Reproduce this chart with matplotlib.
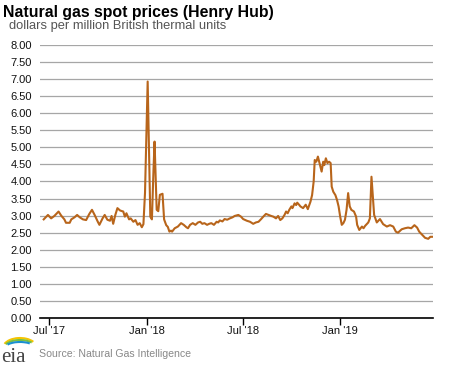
import matplotlib
matplotlib.use("Agg")
import matplotlib.pyplot as plt
from matplotlib.patches import Arc
import numpy as np
import pandas as pd

plt.rcParams['font.family'] = ['Liberation Sans', 'DejaVu Sans']

## Data
dates = [
    "2017-06-21", "2017-06-29", "2017-07-05", "2017-07-11", "2017-07-19", "2017-07-24",
    "2017-07-30", "2017-08-02", "2017-08-09", "2017-08-12", "2017-08-18", "2017-08-23",
    "2017-08-28", "2017-09-03", "2017-09-09", "2017-09-15", "2017-09-20", "2017-09-25",
    "2017-10-01", "2017-10-04", "2017-10-10", "2017-10-14", "2017-10-19", "2017-10-24",
    "2017-10-27", "2017-10-30", "2017-11-03", "2017-11-07", "2017-11-12", "2017-11-18",
    "2017-11-21", "2017-11-24", "2017-11-29", "2017-12-02", "2017-12-07", "2017-12-11",
    "2017-12-15", "2017-12-19", "2017-12-23", "2017-12-26", "2017-12-29", "2018-01-03",
    "2018-01-08", "2018-01-11", "2018-01-14", "2018-01-16", "2018-01-20", "2018-01-23",
    "2018-01-26", "2018-01-31", "2018-02-03", "2018-02-07", "2018-02-10", "2018-02-13",
    "2018-02-16", "2018-02-18", "2018-02-23", "2018-03-01", "2018-03-07", "2018-03-12",
    "2018-03-17", "2018-03-20", "2018-03-24", "2018-03-29", "2018-04-03", "2018-04-08",
    "2018-04-12", "2018-04-16", "2018-04-20", "2018-04-25", "2018-04-29", "2018-05-03",
    "2018-05-08", "2018-05-13", "2018-05-16", "2018-05-19", "2018-05-24", "2018-05-28",
    "2018-06-02", "2018-06-07", "2018-06-12", "2018-06-16", "2018-06-23", "2018-06-28",
    "2018-07-02", "2018-07-09", "2018-07-15", "2018-07-21", "2018-07-26", "2018-07-31",
    "2018-08-05", "2018-08-09", "2018-08-14", "2018-08-19", "2018-08-24", "2018-08-28",
    "2018-09-02", "2018-09-06", "2018-09-10", "2018-09-14", "2018-09-18", "2018-09-21",
    "2018-09-24", "2018-09-27", "2018-10-01", "2018-10-03", "2018-10-07", "2018-10-10",
    "2018-10-12", "2018-10-16", "2018-10-18", "2018-10-23", "2018-10-28", "2018-11-01",
    "2018-11-06", "2018-11-09", "2018-11-12", "2018-11-14", "2018-11-17", "2018-11-20",
    "2018-11-23", "2018-11-27", "2018-11-30", "2018-12-02", "2018-12-05", "2018-12-08",
    "2018-12-11", "2018-12-14", "2018-12-16", "2018-12-19", "2018-12-23", "2018-12-26",
    "2018-12-29", "2019-01-01", "2019-01-04", "2019-01-07", "2019-01-10", "2019-01-13",
    "2019-01-16", "2019-01-19", "2019-01-22", "2019-01-27", "2019-01-31", "2019-02-02",
    "2019-02-06", "2019-02-11", "2019-02-14", "2019-02-17", "2019-02-20", "2019-02-23",
    "2019-02-26", "2019-03-01", "2019-03-06", "2019-03-11", "2019-03-17", "2019-03-23",
    "2019-03-30", "2019-04-05", "2019-04-11", "2019-04-16", "2019-04-20", "2019-04-27",
    "2019-05-03", "2019-05-09", "2019-05-15", "2019-05-21", "2019-05-26", "2019-05-30",
    "2019-06-04", "2019-06-10", "2019-06-16", "2019-06-20", "2019-06-23",
]
prices = [
    2.89, 3.02, 2.92, 2.99, 3.12, 3.00,
    2.89, 2.79, 2.79, 2.89, 2.95, 3.02,
    2.95, 2.89, 2.87, 3.05, 3.17, 3.02,
    2.82, 2.73, 2.92, 3.02, 2.88, 2.85,
    2.99, 2.76, 3.02, 3.22, 3.15, 3.12,
    2.97, 3.07, 2.89, 2.92, 2.82, 2.87,
    2.73, 2.78, 2.66, 2.75, 3.67, 6.93,
    2.97, 2.89, 4.34, 5.17, 3.17, 3.13,
    3.61, 3.64, 2.89, 2.72, 2.67, 2.53,
    2.56, 2.53, 2.63, 2.68, 2.78, 2.73,
    2.66, 2.63, 2.73, 2.78, 2.73, 2.80,
    2.82, 2.76, 2.78, 2.73, 2.76, 2.78,
    2.73, 2.82, 2.80, 2.86, 2.83, 2.90,
    2.88, 2.92, 2.95, 2.99, 3.02, 2.97,
    2.90, 2.85, 2.82, 2.76, 2.80, 2.82,
    2.90, 2.97, 3.05, 3.02, 2.99, 2.97,
    2.92, 2.99, 2.87, 2.92, 3.02, 3.12,
    3.07, 3.17, 3.27, 3.22, 3.36, 3.31,
    3.38, 3.31, 3.27, 3.22, 3.32, 3.19,
    3.41, 3.60, 4.00, 4.63, 4.58, 4.73,
    4.54, 4.29, 4.58, 4.48, 4.68, 4.54,
    4.58, 4.54, 3.85, 3.70, 3.60, 3.46,
    3.27, 2.97, 2.73, 2.78, 2.88, 3.17,
    3.66, 3.27, 3.17, 3.12, 2.97, 2.73,
    2.58, 2.68, 2.63, 2.70, 2.75, 2.80,
    2.92, 4.14, 3.02, 2.80, 2.90, 2.75,
    2.68, 2.72, 2.68, 2.53, 2.50, 2.60,
    2.63, 2.65, 2.63, 2.72, 2.65, 2.53,
    2.45, 2.35, 2.32, 2.38, 2.38,
]
tick_dates = ["2017-07-01", "2018-01-01", "2018-07-01", "2019-01-01"]
tick_labels = ["Jul '17", "Jan '18", "Jul '18", "Jan '19"]
y_ticks = np.arange(0, 8.01, 0.5)

x = pd.to_datetime(dates)

fig = plt.figure(figsize=(4.68, 3.66), dpi=100)
ax = fig.add_axes([40 / 468, 1 - 318 / 366, 393 / 468, 273 / 366])

ax.plot(x, prices, color='#b8651b', lw=1.5, solid_joinstyle='round')

ax.set_ylim(0, 8)
ax.set_xlim(pd.Timestamp("2017-06-14"), pd.Timestamp("2019-06-25"))
ax.set_yticks(y_ticks)
ax.set_yticklabels(["%.2f" % v for v in y_ticks], fontsize=8, color='#111111')
ax.set_xticks(pd.to_datetime(tick_dates))
ax.set_xticklabels(tick_labels, fontsize=8, color='#111111')

# Gridlines and axes
ax.grid(axis='y', color='#a6a6a6', lw=0.9)
ax.set_axisbelow(True)
for s in ['top', 'right', 'left']:
    ax.spines[s].set_visible(False)
ax.spines['bottom'].set_color('black')
ax.spines['bottom'].set_linewidth(1.2)
ax.tick_params(axis='y', length=0, pad=6)
ax.tick_params(axis='x', length=5, width=1, direction='out', pad=1)

# Title texts
fig.text(3 / 468, 1 - 12 / 366, "Natural gas spot prices (Henry Hub)",
         fontsize=11.4, fontweight='bold', va='center', ha='left')
fig.text(9 / 468, 1 - 26 / 366, "dollars per million British thermal units",
         fontsize=9.3, color='#555555', va='center', ha='left')
fig.text(39 / 468, 1 - 354 / 366, "Source: Natural Gas Intelligence",
         fontsize=7.6, color='#888888', va='center', ha='left')

# eia logo
fig.text(1 / 468, 1 - 357 / 366, "eia", fontsize=15, color='#444444',
         family='Liberation Serif', va='center', ha='left')
lax = fig.add_axes([0, 0, 1, 1], facecolor='none')
lax.set_xlim(0, 468)
lax.set_ylim(366, 0)
lax.axis('off')
for col, w, h in [('#f5c400', 34, 20), ('#7bbf3f', 32, 16), ('#1a8fd0', 30, 12)]:
    lax.add_patch(Arc((20, 348), w, h, theta1=195, theta2=335,
                      color=col, lw=1.5))

fig.savefig("out.png", dpi=100)
